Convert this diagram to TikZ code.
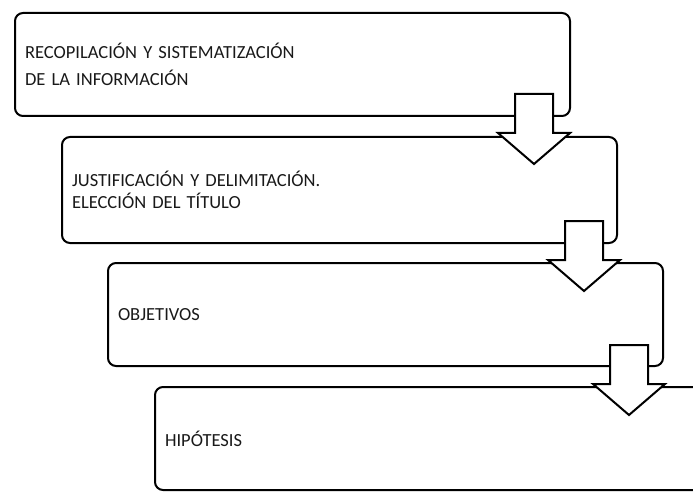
\documentclass[tikz,border=0pt]{standalone}
\usepackage{fontspec}
\setmainfont{Carlito}
\usetikzlibrary{positioning}
\tikzstyle{stage} = [
  rectangle,
  rounded corners=8pt,
  draw=black,
  line width=2pt,
  outer sep=0pt,
  minimum height=103pt,
  inner xsep=10pt,
  text width=535pt,
  align=left,
  text=black!90,
  font=\fontsize{18.5}{27}\selectfont
]
\tikzstyle{blockarrow} = [
  draw=black,
  line width=2pt,
  fill=white,
  line join=miter
]

\begin{document}
\begin{tikzpicture}[x=1pt, y=-1pt]
      \useasboundingbox (0,0) rectangle (693,492);

      \node [stage, anchor=north west] (recopilacion) at (15,13)
        {RECOPILACIÓN Y SISTEMATIZACIÓN\\DE LA INFORMACIÓN};
      \node [stage, below right=21pt and 47pt of recopilacion.south west, minimum height=106pt,
        font=\fontsize{18.5}{22.5}\selectfont] (justificacion)
        {JUSTIFICACIÓN Y DELIMITACIÓN.\\ELECCIÓN DEL TÍTULO};
      \node [stage, below right=20pt and 46pt of justificacion.south west] (objetivos) {OBJETIVOS};
      \node [stage, below right=21pt and 47pt of objetivos.south west] (hipotesis) {HIPÓTESIS};

      % block arrows between the stages
      \draw [blockarrow] (recopilacion.south east) ++(-55,-22) -- ++(38,0) -- ++(0,39) -- ++(17,0)
        -- ++(-36,31) -- ++(-36,-31) -- ++(17,0) -- cycle;
      \draw [blockarrow] (justificacion.south east) ++(-52,-22) -- ++(38,0) -- ++(0,39) -- ++(17,0)
        -- ++(-36,31) -- ++(-36,-31) -- ++(17,0) -- cycle;
      \draw [blockarrow] (objetivos.south east) ++(-53,-21) -- ++(38,0) -- ++(0,39) -- ++(17,0)
        -- ++(-36,31) -- ++(-36,-31) -- ++(17,0) -- cycle;

    \end{tikzpicture}
\end{document}
